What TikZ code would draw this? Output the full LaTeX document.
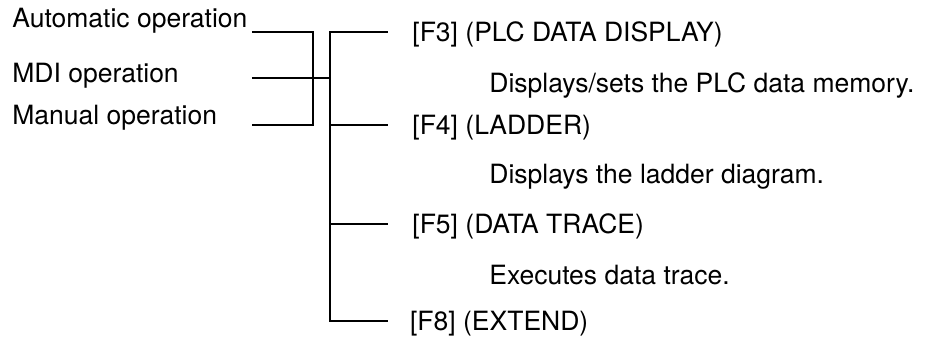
\documentclass[tikz,border=0pt]{standalone}
\usepackage{fontspec}
\setmainfont{TeX Gyre Heros}
\pgfdeclarelayer{edgelayer}
\pgfdeclarelayer{nodelayer}
\pgfsetlayers{edgelayer,nodelayer,main}
\tikzstyle{wire}=[draw=black, line width=1pt]
\tikzstyle{mode}=[inner sep=0pt, anchor=base west, font=\fontsize{13.25}{16}\selectfont]
\tikzstyle{softkey}=[style=mode]
\tikzstyle{remark}=[style=mode]

\begin{document}
\begin{tikzpicture}
	\useasboundingbox (0, 0) rectangle (16.255, 5.957);
	\begin{pgfonlayer}{nodelayer}
		\node [style=mode] (0) at (0.211, 5.465) {Automatic operation};
		\node [style=mode] (1) at (0.211, 4.499) {MDI operation};
		\node [style=mode] (2) at (0.211, 3.761) {Manual operation};
		\node [style=softkey] (3) at (7.240, 5.219) {[F3] (PLC DATA DISPLAY)};
		\node [style=remark] (4) at (8.593, 4.323) {Displays/sets the PLC data memory.};
		\node [style=softkey] (5) at (7.240, 3.585) {[F4] (LADDER)};
		\node [style=remark] (6) at (8.593, 2.724) {Displays the ladder diagram.};
		\node [style=softkey] (7) at (7.240, 1.845) {[F5] (DATA TRACE)};
		\node [style=remark] (8) at (8.593, 0.949) {Executes data trace.};
		\node [style=softkey] (9) at (7.200, 0.141) {[F8] (EXTEND)};
		\coordinate (10) at (4.428, 5.395);
		\coordinate (11) at (5.500, 5.395);
		\coordinate (12) at (5.500, 3.761);
		\coordinate (13) at (4.428, 3.761);
		\coordinate (14) at (4.428, 4.587);
		\coordinate (15) at (5.799, 4.587);
		\coordinate (16) at (5.799, 5.395);
		\coordinate (17) at (5.799, 0.316);
		\coordinate (18) at (6.818, 5.395);
		\coordinate (19) at (5.799, 3.761);
		\coordinate (20) at (6.818, 3.761);
		\coordinate (21) at (5.799, 2.021);
		\coordinate (22) at (6.818, 2.021);
		\coordinate (23) at (6.818, 0.316);
	\end{pgfonlayer}
	\begin{pgfonlayer}{edgelayer}
		\draw [style=wire] (10) to (11) to (12) to (13);
		\draw [style=wire] (14) to (15);
		\draw [style=wire] (18) to (16) to (17) to (23);
		\draw [style=wire] (19) to (20);
		\draw [style=wire] (21) to (22);
	\end{pgfonlayer}
\end{tikzpicture}
\end{document}
